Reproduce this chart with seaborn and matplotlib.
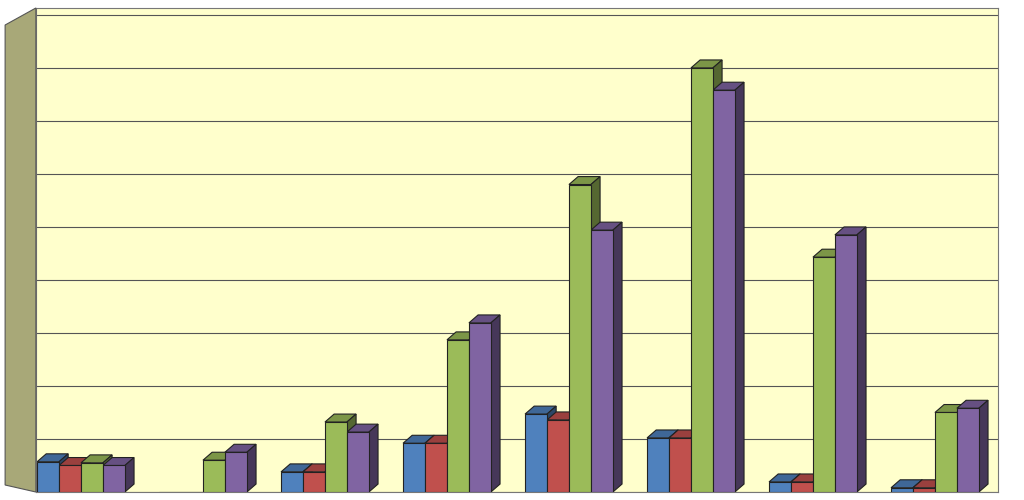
import matplotlib
matplotlib.use("Agg")
import matplotlib.pyplot as plt
from matplotlib.patches import Polygon
from matplotlib.colors import to_rgb
import pandas as pd
import seaborn as sns

groups = ["1", "2", "3", "4", "5", "6", "7", "8"]
series = ["A", "B", "C", "D"]
values_a = [0.57, 0.0, 0.38, 0.92, 1.47, 1.02, 0.19, 0.08]
values_b = [0.50, 0.0, 0.38, 0.92, 1.36, 1.02, 0.19, 0.08]
values_c = [0.55, 0.60, 1.32, 2.87, 5.80, 8.00, 4.43, 1.50]
values_d = [0.50, 0.75, 1.13, 3.19, 4.94, 7.58, 4.85, 1.58]
colors = ["#4F81BD", "#C0504D", "#9BBB59", "#8064A2"]

rows = []
for s, vals in zip(series, [values_a, values_b, values_c, values_d]):
    for g, v in zip(groups, vals):
        rows.append({"group": g, "series": s, "value": v})
df = pd.DataFrame(rows)

sns.set_style("white")
fig = plt.figure(figsize=(10.24, 5), dpi=100)
ax = fig.add_axes([0.035, 0.016, 0.94, 0.968])
ax.set_facecolor("#FFFFCC")
sns.barplot(data=df, x="group", y="value", hue="series", palette=colors,
            saturation=1, width=0.72, ax=ax, legend=False,
            edgecolor="#222222", linewidth=0.8, zorder=3)
ax.set_xlim(-0.37, 7.52)
ax.set_ylim(0, 9.13)
ax.set_yticks(range(0, 10))
ax.yaxis.grid(True, color="#555555", linewidth=0.8, zorder=0)
ax.set_xticks([])
ax.set_yticklabels([])
ax.tick_params(left=False)
ax.set_xlabel("")
ax.set_ylabel("")
for sp in ax.spines.values():
    sp.set_color("#777777")

# pseudo-3D tops and sides
dx = 0.075
dy = 0.15
for p in ax.patches:
    h = p.get_height()
    if h <= 0:
        continue
    x0, w = p.get_x(), p.get_width()
    c = to_rgb(p.get_facecolor())
    top = Polygon([(x0, h), (x0 + dx, h + dy), (x0 + w + dx, h + dy), (x0 + w, h)],
                  closed=True, facecolor=tuple(v * 0.8 for v in c),
                  edgecolor="#222222", linewidth=0.8, zorder=2)
    side = Polygon([(x0 + w, 0), (x0 + w + dx, dy), (x0 + w + dx, h + dy), (x0 + w, h)],
                   closed=True, facecolor=tuple(v * 0.55 for v in c),
                   edgecolor="#222222", linewidth=0.8, zorder=2)
    ax.add_patch(top)
    ax.add_patch(side)

# left wall
fig.patches.append(Polygon([(0.005, 0.03), (0.035, 0.016), (0.035, 0.984), (0.005, 0.95)],
                           closed=True, transform=fig.transFigure,
                           facecolor="#A8A878", edgecolor="#555555", linewidth=0.8))
fig.savefig("out.png", dpi=100)
